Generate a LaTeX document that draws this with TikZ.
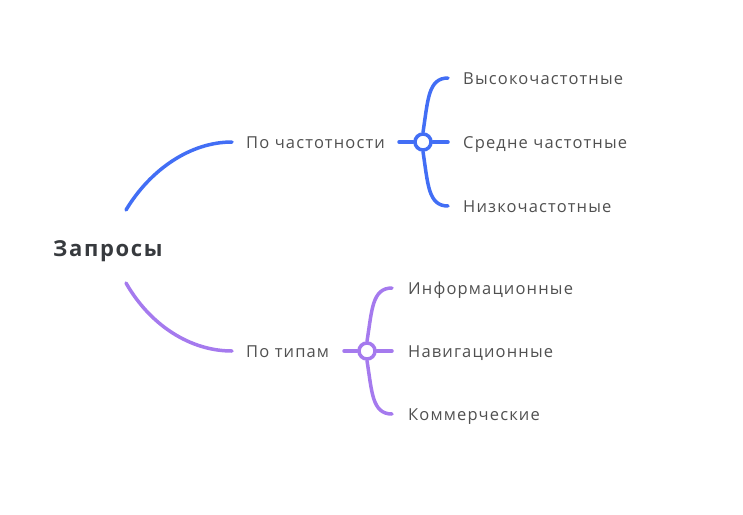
\documentclass[tikz,border=0pt]{standalone}
\usepackage{fontspec}
\setmainfont{Open Sans}
\definecolor{bl}{RGB}{66,110,245}
\definecolor{pu}{RGB}{165,122,238}
\definecolor{tx}{RGB}{80,80,80}
\definecolor{rt}{RGB}{55,58,62}
\begin{document}
\begin{tikzpicture}[x=1pt,y=-1pt,
  lbl/.style={anchor=base west,inner sep=0pt,yshift=-6pt,text=tx,font=\addfontfeature{LetterSpace=7}\fontsize{16.5}{19}\selectfont},
  root/.style={anchor=base west,inner sep=0pt,yshift=-8pt,text=rt,font=\bfseries\addfontfeature{LetterSpace=7.5}\fontsize{22}{26}\selectfont},
  br/.style={line width=3.5pt,line cap=round},
  hub/.style={circle,draw,line width=3.5pt,fill=white,minimum size=16pt,inner sep=0pt}]
\useasboundingbox (0,0) rectangle (743,514);
\node[root] (r) at (53,248) {Запросы};
\coordinate (rtop) at (126,210);
\coordinate (rbot) at (126,283);
% blue branch
\coordinate (a0) at (232,142);
\node[lbl] (a) at (246,142) {По частотности};
\coordinate (ha) at (399,142);
\node[hub,draw=bl] (ca) at (423,142) {};
\coordinate (a1e) at (448,78);
\coordinate (a2e) at (448,142);
\coordinate (a3e) at (448,206);
\node[lbl] (a1) at (463,78) {Высокочастотные};
\node[lbl] (a2) at (463,142) {Средне частотные};
\node[lbl] (a3) at (463,206) {Низкочастотные};
\draw[br,bl] (rtop) .. controls (150,170) and (190,142) .. (a0);
\draw[br,bl] (ha) -- (ca.west);
\draw[br,bl] (ca.east) -- (a2e);
\draw[br,bl] (ca.north) .. controls (428,100) and (428,78) .. (a1e);
\draw[br,bl] (ca.south) .. controls (428,184) and (428,206) .. (a3e);
% purple branch
\coordinate (b0) at (232,351);
\node[lbl] (b) at (246,351) {По типам};
\coordinate (hb) at (344,351);
\node[hub,draw=pu] (cb) at (367,351) {};
\coordinate (b1e) at (392,288);
\coordinate (b2e) at (392,351);
\coordinate (b3e) at (392,414);
\node[lbl] (b1) at (408,288) {Информационные};
\node[lbl] (b2) at (408,351) {Навигационные};
\node[lbl] (b3) at (408,414) {Коммерческие};
\draw[br,pu] (rbot) .. controls (150,325) and (190,351) .. (b0);
\draw[br,pu] (hb) -- (cb.west);
\draw[br,pu] (cb.east) -- (b2e);
\draw[br,pu] (cb.north) .. controls (372,310) and (372,288) .. (b1e);
\draw[br,pu] (cb.south) .. controls (372,392) and (372,414) .. (b3e);
\end{tikzpicture}
\end{document}
